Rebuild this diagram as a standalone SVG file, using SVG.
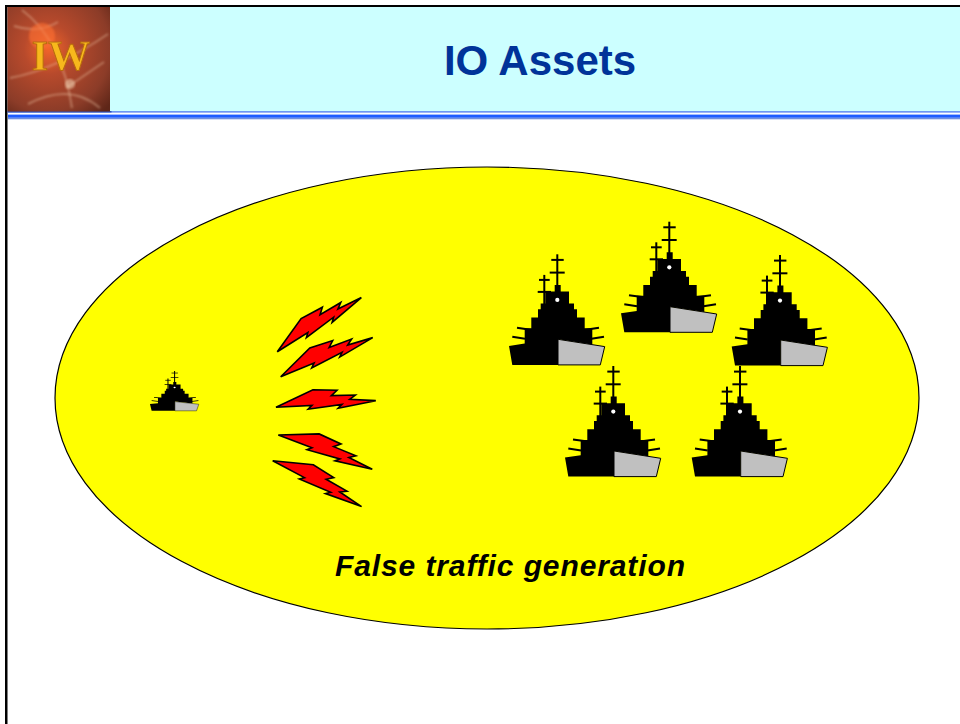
<svg xmlns="http://www.w3.org/2000/svg" width="960" height="724" viewBox="0 0 960 724">
  <style>
    .title { font-family: "Liberation Sans", Arial, sans-serif; font-weight: bold; font-size: 42px; fill: #003399; }
    .caption { font-family: "Liberation Sans", Arial, sans-serif; font-weight: bold; font-style: italic; font-size: 30px; fill: #000; }
    .hull { fill: #000; }
    .stern { fill: #c0c0c0; stroke: #000; stroke-width: 1; stroke-linejoin: miter; }
    .rig { stroke: #000; stroke-width: 2; fill: none; stroke-linecap: butt; }
    .bolt { fill: #ff0000; stroke: #000; stroke-width: 1.6; stroke-linejoin: miter; }
  </style>
  <defs>
    <radialGradient id="logoGlow" cx="0.4" cy="0.4" r="0.8">
      <stop offset="0" stop-color="#f2642a"/>
      <stop offset="0.3" stop-color="#b84a2c"/>
      <stop offset="0.75" stop-color="#8c3c28"/>
      <stop offset="1" stop-color="#5e2618"/>
    </radialGradient>
    <filter id="soft" x="-10%" y="-10%" width="120%" height="120%">
      <feGaussianBlur stdDeviation="1.2"/>
    </filter>
    <filter id="softer" x="-10%" y="-10%" width="120%" height="120%">
      <feGaussianBlur stdDeviation="0.7"/>
    </filter>
    <!-- warship silhouette, drawn in a 108 x 118 box -->
    <g id="ship">
      <line class="rig" x1="54.3" y1="6.7" x2="54.3" y2="40"/>
      <line class="rig" x1="48.3" y1="12.3" x2="60.7" y2="12.3"/>
      <line class="rig" x1="46.7" y1="25" x2="61.7" y2="25"/>
      <line class="rig" x1="41.3" y1="27.3" x2="41.3" y2="58"/>
      <line class="rig" x1="36" y1="32.3" x2="46.7" y2="32.3"/>
      <line class="rig" x1="34.7" y1="44.3" x2="48" y2="44.3"/>
      <line class="rig" x1="14" y1="80.2" x2="29" y2="82.3"/>
      <line class="rig" x1="9.3" y1="89.2" x2="22" y2="91.2"/>
      <line class="rig" x1="81" y1="82.3" x2="96" y2="80.2"/>
      <line class="rig" x1="88.5" y1="91.2" x2="101" y2="89.2"/>
      <polygon class="hull" points="9.3,117.3 6,98.3 21.7,96 21.7,80.7 28.3,80.7 28.3,70 35,70 35,61.7 37.7,61.7 37.7,56 42.3,56 42.3,44 51.7,44 51.7,37.3 57.7,37.3 57.7,44 66,44 66,56 71,56 71,61.7 74,61.7 74,70 81.7,70 81.7,80.7 89.3,80.7 89.3,97.1 55,91.7 55,117.3"/>
      <polygon class="stern" points="55,91.7 101.7,99 97.3,117.3 55,117.3"/>
      <circle cx="54.3" cy="52.3" r="2.1" fill="#fff"/>
    </g>
    <!-- jagged bolt, tail at origin pointing along +x -->
    <polygon id="bolt" class="bolt" points="0,0 38,-15 62,-13 56,-8 80,-7 74,-3 100,0 62,5 66,1.5 32,4 36,0.5"/>
  </defs>

  <rect width="960" height="724" fill="#fff"/>

  <!-- header band -->
  <g id="header">
    <rect x="110" y="7" width="850" height="104.5" fill="#ccffff"/>
    <rect x="5" y="5" width="955" height="2" fill="#000"/>
    <rect x="5" y="5" width="2.5" height="719" fill="#000"/>
    <rect x="7.5" y="111.3" width="952.5" height="1.2" fill="#3a6cf0"/>
    <rect x="7.5" y="111.2" width="104" height="1.2" fill="#1f3fa8"/>
    <rect x="8" y="114.6" width="952" height="3.2" fill="#1e5cff"/>
    <rect x="8" y="117.8" width="952" height="1.5" fill="#7090e0"/>
    <text class="title" x="540" y="75" text-anchor="middle">IO Assets</text>
  </g>

  <!-- IW emblem -->
  <g id="logo">
    <rect x="7.5" y="7" width="102.5" height="104.5" fill="url(#logoGlow)"/>
    <g filter="url(#soft)" fill="none" stroke="#f0c8a8" stroke-opacity="0.4" stroke-width="2">
      <path d="M22,10 Q62,40 72,108"/>
      <path d="M10,78 Q55,70 108,34"/>
      <path d="M28,104 Q70,82 100,108"/>
      <path d="M66,88 L104,62"/>
      <path d="M14,26 Q38,34 58,22"/>
    </g>
    <circle cx="42" cy="36" r="13" fill="#ff7030" opacity="0.6" filter="url(#soft)"/>
    <circle cx="70" cy="84" r="5" fill="#f8e0c0" opacity="0.5" filter="url(#soft)"/>
    <text x="61" y="70" text-anchor="middle" font-family="'Liberation Serif', 'Times New Roman', serif" font-weight="bold" font-size="42" fill="#f7b81c" stroke="#b86a10" stroke-width="1" filter="url(#softer)">IW</text>
  </g>

  <!-- operating area -->
  <g id="area">
    <ellipse cx="487" cy="398" rx="432" ry="231" fill="#ffff00" stroke="#000" stroke-width="1.2"/>
    <text class="caption" x="510" y="576" text-anchor="middle" textLength="350" lengthAdjust="spacing">False traffic generation</text>
  </g>

  <!-- emitting ship -->
  <g id="decoy-ship">
    <g transform="translate(146.9,368.6) scale(0.51,0.36)">
      <use href="#ship"/>
    </g>
  </g>

  <!-- false traffic emissions -->
  <g id="emissions">
    <use href="#bolt" transform="translate(277.3,351.7) rotate(-32.8)"/>
    <use href="#bolt" transform="translate(280.7,376.7) rotate(-23)"/>
    <use href="#bolt" transform="translate(276,407.3) rotate(-3.8)"/>
    <use href="#bolt" transform="translate(278.3,435) rotate(20)"/>
    <use href="#bolt" transform="translate(272.7,460.7) rotate(27.3)"/>
  </g>

  <!-- simulated task group -->
  <g id="ship-1"><use href="#ship" x="503" y="247.6"/></g>
  <g id="ship-2"><use href="#ship" x="615" y="215"/></g>
  <g id="ship-3"><use href="#ship" x="725.7" y="248.3"/></g>
  <g id="ship-4"><use href="#ship" x="559" y="359.3"/></g>
  <g id="ship-5"><use href="#ship" x="685.7" y="359.3"/></g>
</svg>
